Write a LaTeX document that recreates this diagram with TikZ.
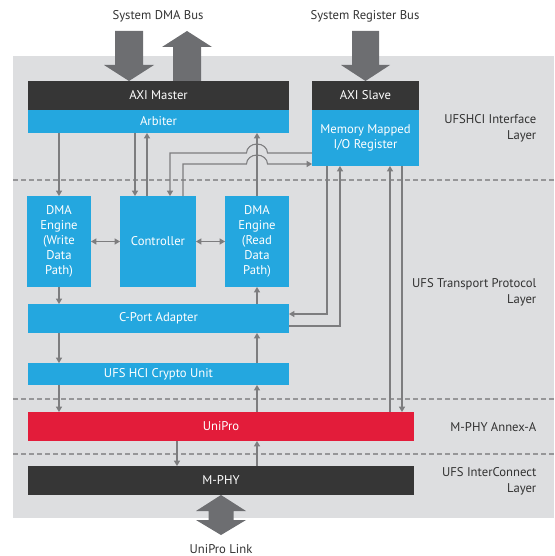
\documentclass[tikz,border=0pt]{standalone}
\usepackage{fontspec}
\setmainfont{PT Sans}
\usetikzlibrary{arrows.meta,calc}

\definecolor{ufsbg}{RGB}{221,222,224}
\definecolor{ufsblue}{RGB}{36,167,223}
\definecolor{ufsdark}{RGB}{54,54,54}
\definecolor{ufsred}{RGB}{227,28,58}
\definecolor{busgray}{RGB}{109,110,113}
\definecolor{linkgray}{RGB}{125,125,127}
\definecolor{sepgray}{RGB}{150,150,152}
\definecolor{labelgray}{RGB}{50,50,50}

\tikzset{
  box/.style={inner sep=0pt, outer sep=0pt, text=white, align=center,
    font=\fontsize{9.5}{11.3}\selectfont},
  boxsize/.style 2 args={minimum width=#1*0.75pt, minimum height=#2*0.75pt},
  bluebox/.style={box, fill=ufsblue},
  darkbox/.style={box, fill=ufsdark},
  redbox/.style={box, fill=ufsred},
  layerlabel/.style={anchor=east, align=right, text=labelgray,
    font=\fontsize{9.5}{12}\selectfont},
  buslabel/.style={text=labelgray, font=\fontsize{9.5}{12}\selectfont},
  link/.style={draw=linkgray, line width=0.8pt, -{Triangle[length=4pt,width=4.5pt]}},
  twoway/.style={link, {Triangle[length=4pt,width=4.5pt]}-{Triangle[length=4pt,width=4.5pt]}},
  bus/.style={fill=busgray},
  layersep/.style={draw=sepgray, line width=0.8pt, dash pattern=on 3.5pt off 2.5pt}
}

\begin{document}
\begin{tikzpicture}[x=0.75pt, y=-0.75pt]
  \useasboundingbox (0,0) rectangle (554,556);
  \fill[ufsbg] (13,56) rectangle (554,518);

  % layer borders
  \foreach \yy in {180,399,454}
    \draw[layersep] (13,\yy) -- (554,\yy);

  % interface layer
  \node[darkbox, boxsize={261}{29}] (axim) at (158.5,95.5) {AXI Master};
  \node[bluebox, boxsize={261}{23}] (arb) at (158.5,121.5) {Arbiter};
  \node[darkbox, boxsize={107}{29}] (axis) at (365.5,95.5) {AXI Slave};
  \node[bluebox, boxsize={107}{56}] (mmio) at (365.5,138) {Memory Mapped\\I/O Register};

  % transport layer
  \node[bluebox, boxsize={64}{91}] (dmaw) at (59,241.5) {DMA\\Engine\\(Write\\Data\\Path)};
  \node[bluebox, boxsize={76}{91}] (ctrl) at (158,241.5) {Controller};
  \node[bluebox, boxsize={64}{91}] (dmar) at (257,241.5) {DMA\\Engine\\(Read\\Data\\Path)};
  \node[bluebox, boxsize={261}{29}] (cport) at (158.5,318.5) {C-Port Adapter};
  \node[bluebox, boxsize={261}{22}] (crypto) at (158.5,374) {UFS HCI Crypto Unit};

  % link and phy
  \node[redbox, boxsize={386}{29}] (unipro) at (221,426.5) {UniPro};
  \node[darkbox, boxsize={386}{29}] (mphy) at (221,480.5) {M-PHY};

  % layer names
  \node[layerlabel] (lhci) at (541,128) {UFSHCI Interface\\Layer};
  \node[layerlabel] (ltp) at (541,292) {UFS Transport Protocol\\Layer};
  \node[layerlabel] (lmphy) at (541,427) {M-PHY Annex-A};
  \node[layerlabel] (lic) at (541,481) {UFS InterConnect\\Layer};

  % outside buses
  \node[buslabel] (dmabus) at (158,16) {System DMA Bus};
  \node[buslabel] (regbus) at (365,16) {System Register Bus};
  \node[buslabel] (link) at (221,549) {UniPro Link};

  \coordinate (dmain) at (129,0);
  \coordinate (dmaout) at (187,0);
  \fill[bus] (axim.north -| dmain) -- ++(-25,-16) -- ++(11,0) -- ++(0,-34)
    -- ++(28,0) -- ++(0,34) -- ++(11,0) -- cycle;
  \fill[bus] (axim.north -| dmaout) -- ++(-14,0) -- ++(0,-34) -- ++(-11,0)
    -- ++(25,-16) -- ++(25,16) -- ++(-11,0) -- ++(0,34) -- cycle;
  \fill[bus] (axis.north) -- ++(-24.5,-16) -- ++(11,0) -- ++(0,-34)
    -- ++(27,0) -- ++(0,34) -- ++(11,0) -- cycle;
  \fill[bus] (mphy.south) -- ++(25,16) -- ++(-12.5,0) -- ++(0,9) -- ++(12.5,0)
    -- ++(-25,15) -- ++(-25,-15) -- ++(12.5,0) -- ++(0,-9) -- ++(-12.5,0) -- cycle;

  % columns and rows for the inner links
  \coordinate (c1) at (135,0);
  \coordinate (c2) at (147,0);
  \coordinate (c3) at (170,0);
  \coordinate (c4) at (183,0);
  \coordinate (c5) at (327,0);
  \coordinate (c6) at (340,0);
  \coordinate (c7) at (390,0);
  \coordinate (c8) at (402,0);
  \coordinate (c9) at (177,0);
  \coordinate (h1) at (0,153);
  \coordinate (h2) at (0,164);
  \coordinate (h3) at (0,314);
  \coordinate (h4) at (0,326);

  \draw[link] (arb.south -| dmaw) -- (dmaw.north);
  \draw[link] (arb.south -| c1) -- (ctrl.north -| c1);
  \draw[link] (ctrl.north -| c2) -- (arb.south -| c2);
  \draw[link] (dmar.north) -- (arb.south -| dmar);

  % register paths hop over the read engine line
  \draw[link] (mmio.west |- h1) -- ($(dmar |- h1)+(10.5,0)$)
    arc[start angle=0, end angle=-180, x radius=10.5, y radius=9]
    -- (c3 |- h1) -- (ctrl.north -| c3);
  \draw[link] (ctrl.north -| c4) -- (c4 |- h2) -- ($(dmar |- h2)+(-10.5,0)$)
    arc[start angle=180, end angle=360, x radius=10.5, y radius=9]
    -- (mmio.west |- h2);

  \draw[twoway] (dmaw.east) -- (ctrl.west);
  \draw[twoway] (ctrl.east) -- (dmar.west);
  \draw[link] (dmaw.south) -- (cport.north -| dmaw);
  \draw[link] (cport.north -| dmar) -- (dmar.south);

  \draw[link] (mmio.south -| c5) -- (c5 |- h3) -- (cport.east |- h3);
  \draw[link] (cport.east |- h4) -- (c6 |- h4) -- (mmio.south -| c6);
  \draw[link] (unipro.north -| c7) -- (mmio.south -| c7);
  \draw[link] (mmio.south -| c8) -- (unipro.north -| c8);

  \draw[link] (cport.south -| dmaw) -- (crypto.north -| dmaw);
  \draw[link] (crypto.north -| dmar) -- (cport.south -| dmar);
  \draw[link] (crypto.south -| dmaw) -- (unipro.north -| dmaw);
  \draw[link] (unipro.north -| dmar) -- (crypto.south -| dmar);
  \draw[link] (unipro.south -| c9) -- (mphy.north -| c9);
  \draw[link] (mphy.north -| dmar) -- (unipro.south -| dmar);
\end{tikzpicture}
\end{document}
